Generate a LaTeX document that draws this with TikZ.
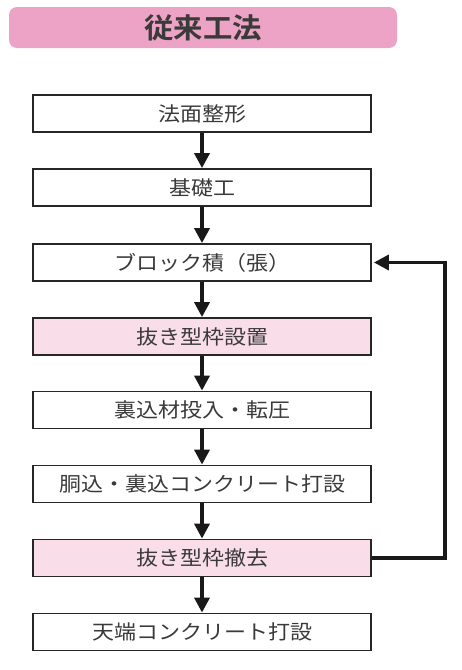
\documentclass[tikz,border=0pt]{standalone}
\usepackage{fontspec}
\newfontfamily\jp[FakeStretch=1.1]{Noto Sans CJK JP}
\newfontfamily\jpb[FakeStretch=1.05]{Noto Sans CJK JP Bold}
\usetikzlibrary{arrows.meta}
\definecolor{titlepink}{HTML}{EDA3C5}
\definecolor{boxpink}{HTML}{F9DEE9}
\definecolor{txt}{HTML}{3A3A3A}
\begin{document}
\begin{tikzpicture}[x=1pt,y=-1pt,
  stepbox/.style={draw=black!85,line width=1.8pt,minimum width=338pt,minimum height=37pt,inner sep=0pt,
    font=\jp\fontsize{20}{20}\selectfont,text=txt,fill=white},
  pinkbox/.style={stepbox,fill=boxpink},
  flow/.style={line width=3.6pt,draw=black!90,-{Triangle[length=15pt,width=15pt]}}]
\useasboundingbox (0,0) rectangle (462,670);
\node[fill=titlepink,rounded corners=8pt,minimum width=388pt,minimum height=41pt,inner sep=0pt,
  font=\jpb\fontsize{28}{28}\selectfont,text=txt] (title) at (203,27.5) {従来工法};
\node[stepbox] (s1) at (202,113.5) {法面整形};
\node[stepbox] (s2) at (202,187.5) {基礎工};
\node[stepbox] (s3) at (202,262.5) {ブロック積（張）};
\node[pinkbox] (s4) at (202,336.5) {抜き型枠設置};
\node[stepbox] (s5) at (202,410) {裏込材投入・転圧};
\node[stepbox] (s6) at (202,484) {胴込・裏込コンクリート打設};
\node[pinkbox] (s7) at (202,558) {抜き型枠撤去};
\node[stepbox] (s8) at (202,632) {天端コンクリート打設};
\foreach \a/\b in {s1/s2,s2/s3,s3/s4,s4/s5,s5/s6,s6/s7,s7/s8}
  \draw[flow] (\a.south) -- (\b.north);
\coordinate (c1) at (445,558);
\coordinate (c2) at (445,262.5);
\draw[flow,line join=miter] (s7.east) -- (c1) -- (c2) -- ([xshift=2pt]s3.east);
\end{tikzpicture}
\end{document}
